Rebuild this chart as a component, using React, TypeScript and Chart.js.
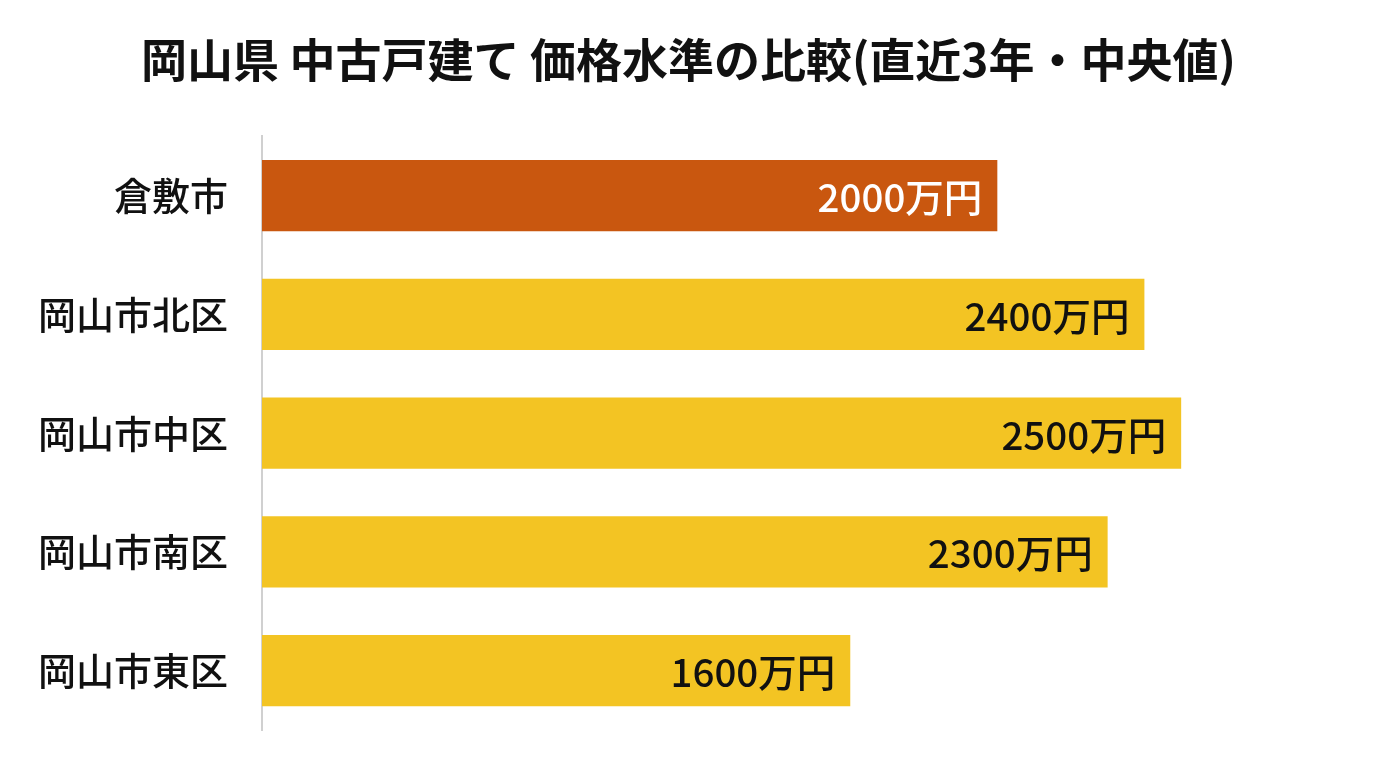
import React, { useEffect, useRef } from 'react';
import { Chart, registerables } from 'chart.js';

Chart.register(...registerables);

const areas: string[] = ['倉敷市', '岡山市北区', '岡山市中区', '岡山市南区', '岡山市東区'];
const prices: number[] = [2000, 2400, 2500, 2300, 1600];
const barColors: string[] = ['#C9570F', '#F3C423', '#F3C423', '#F3C423', '#F3C423'];
const labelColors: string[] = ['#FFFFFF', '#111111', '#111111', '#111111', '#111111'];

const FONT = '"Noto Sans CJK JP", "Noto Sans", sans-serif';

// draws "xxxx万円" inside the end of each bar
const barValueLabels = {
  id: 'barValueLabels',
  afterDatasetsDraw(chart: Chart) {
    const { ctx } = chart;
    const meta = chart.getDatasetMeta(0);
    ctx.save();
    ctx.font = `500 38.5px ${FONT}`;
    ctx.textAlign = 'right';
    ctx.textBaseline = 'middle';
    meta.data.forEach((bar: any, i: number) => {
      ctx.fillStyle = labelColors[i];
      ctx.fillText(`${prices[i]}万円`, bar.x - 15, bar.y + 2);
    });
    ctx.restore();
  },
};

const App: React.FC = () => {
  const canvasRef = useRef<HTMLCanvasElement>(null);
  const chartRef = useRef<Chart | null>(null);

  useEffect(() => {
    document.body.style.margin = '0';
    if (!canvasRef.current) return;
    if (chartRef.current) chartRef.current.destroy();

    chartRef.current = new Chart(canvasRef.current, {
      type: 'bar',
      data: {
        labels: areas,
        datasets: [
          {
            data: prices,
            backgroundColor: barColors,
            borderWidth: 0,
            barPercentage: 0.6,
            categoryPercentage: 1,
          },
        ],
      },
      options: {
        indexAxis: 'y',
        animation: false,
        responsive: false,
        layout: { padding: { top: 0, bottom: 38, left: 12, right: 11 } },
        plugins: {
          legend: { display: false },
          tooltip: { enabled: false },
          title: {
            display: true,
            text: '岡山県 中古戸建て 価格水準の比較(直近3年・中央値)',
            color: '#111111',
            font: { family: FONT, size: 46, weight: 'bold' },
            padding: { top: 32, bottom: 49 },
          },
        },
        scales: {
          x: { display: false, min: 0, max: 3000 },
          y: {
            grid: { display: false },
            border: { display: true, color: '#D0D0D0', width: 2 },
            afterFit: (scale: any) => {
              scale.paddingTop = 0;
              scale.paddingBottom = 0;
            },
            ticks: {
              color: '#111111',
              padding: 26,
              font: { family: FONT, size: 38, weight: 500 },
            },
          },
        },
      },
      plugins: [barValueLabels],
    });

    return () => {
      if (chartRef.current) {
        chartRef.current.destroy();
        chartRef.current = null;
      }
    };
  }, []);

  return (
    <div style={{ width: '1376px', height: '768px', background: '#FFFFFF' }}>
      <canvas ref={canvasRef} width={1376} height={768} style={{ width: '1376px', height: '768px' }} />
    </div>
  );
};

export default App;
